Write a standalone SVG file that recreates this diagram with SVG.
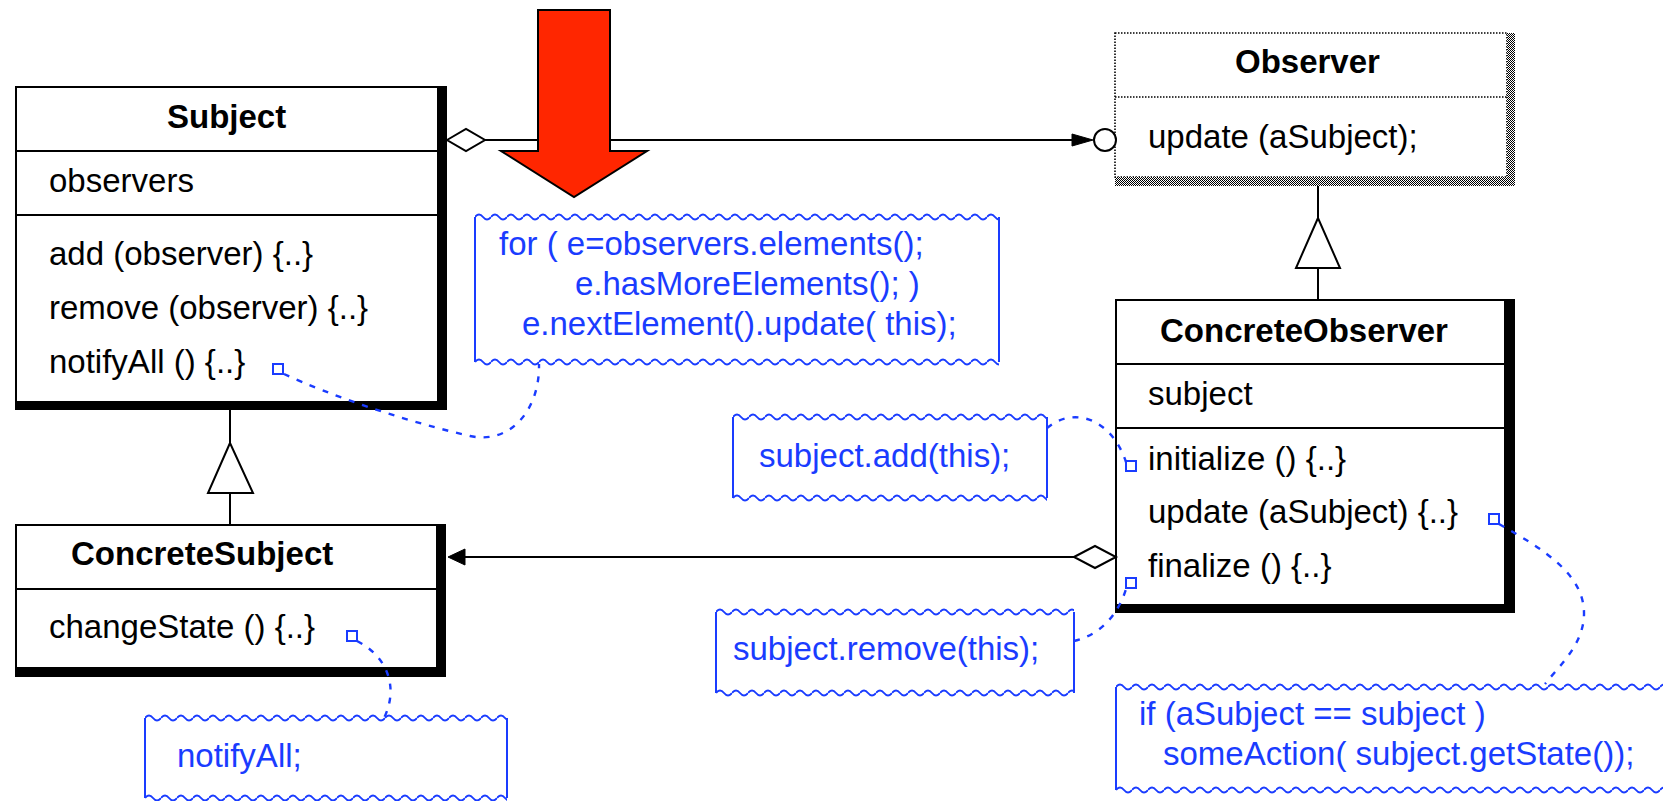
<svg xmlns="http://www.w3.org/2000/svg" width="1663" height="801" viewBox="0 0 1663 801">
<style>
.box{fill:#fff;stroke:#000;stroke-width:2}
.sh{fill:#000}
.div{stroke:#000;stroke-width:2}
.t{font-family:"Liberation Sans",Arial,sans-serif;font-size:33px;fill:#000}
.b{font-weight:bold}
.n{font-family:"Liberation Sans",Arial,sans-serif;font-size:33px;fill:#1a3cff}
.note{fill:#fff;stroke:none}
.nedge{stroke:#1a3cff;stroke-width:2}
.sq{fill:#fff;stroke:#1a3cff;stroke-width:2}
.dash{fill:none;stroke:#1a3cff;stroke-width:2.4;stroke-dasharray:6 8}
.line{fill:none;stroke:#000;stroke-width:2}
.hollow{fill:#fff;stroke:#000;stroke-width:2}
.solid{fill:#000;stroke:#000;stroke-width:1}
</style>
<defs>
<pattern id="wave" width="16" height="10" patternUnits="userSpaceOnUse">
<path d="M0,5 Q4,0 8,5 T16,5" fill="none" stroke="#1a3cff" stroke-width="2"/>
</pattern>
<pattern id="dither" width="2" height="2" patternUnits="userSpaceOnUse">
<rect x="0" y="0" width="2" height="2" fill="#fff"/>
<rect x="0" y="0" width="1" height="1" fill="#000"/>
<rect x="1" y="1" width="1" height="1" fill="#000"/>
</pattern>
</defs>

<g id="subject">
<rect class="box" x="16" y="87" width="422" height="315"/>
<rect class="sh" x="438" y="86" width="9" height="324"/>
<rect class="sh" x="15" y="402" width="432" height="8"/>
<line class="div" x1="16" y1="151" x2="438" y2="151"/>
<line class="div" x1="16" y1="215" x2="438" y2="215"/>
<text class="t b" x="167" y="128">Subject</text>
<text class="t" x="49" y="192">observers</text>
<text class="t" x="49" y="265">add (observer) {..}</text>
<text class="t" x="49" y="319">remove (observer) {..}</text>
<text class="t" x="49" y="373">notifyAll () {..}</text>
<rect class="sq" x="273" y="364" width="10" height="10"/>
</g>

<g id="concreteSubject">
<rect class="box" x="16" y="525" width="421" height="143"/>
<rect class="sh" x="437" y="524" width="9" height="153"/>
<rect class="sh" x="15" y="668" width="431" height="9"/>
<line class="div" x1="16" y1="589" x2="437" y2="589"/>
<text class="t b" x="71" y="565">ConcreteSubject</text>
<text class="t" x="49" y="638">changeState () {..}</text>
<rect class="sq" x="347" y="631" width="10" height="10"/>
</g>

<g id="observer">
<rect x="1115" y="33" width="392" height="144" fill="#fff" stroke="#000" stroke-width="1.6" stroke-dasharray="1.5 1.5"/>
<rect x="1507" y="33" width="8" height="153" fill="url(#dither)"/>
<rect x="1115" y="177" width="400" height="9" fill="url(#dither)"/>
<line x1="1115" y1="97" x2="1507" y2="97" stroke="#000" stroke-width="1.6" stroke-dasharray="1.5 1.5"/>
<text class="t b" x="1235" y="73">Observer</text>
<text class="t" x="1148" y="148">update (aSubject);</text>
</g>

<g id="concreteObserver">
<rect class="box" x="1116" y="300" width="389" height="305"/>
<rect class="sh" x="1505" y="299" width="10" height="314"/>
<rect class="sh" x="1115" y="605" width="400" height="8"/>
<line class="div" x1="1116" y1="364" x2="1505" y2="364"/>
<line class="div" x1="1116" y1="428" x2="1505" y2="428"/>
<text class="t b" x="1160" y="342">ConcreteObserver</text>
<text class="t" x="1148" y="405">subject</text>
<text class="t" x="1148" y="470">initialize () {..}</text>
<text class="t" x="1148" y="523">update (aSubject) {..}</text>
<text class="t" x="1148" y="577">finalize () {..}</text>
<rect class="sq" x="1126" y="461" width="10" height="10"/>
<rect class="sq" x="1126" y="578" width="10" height="10"/>
<rect class="sq" x="1489" y="514" width="10" height="10"/>
</g>

<g id="noteNotifyAll">
<rect class="note" x="475" y="217" width="524" height="145"/>
<rect x="0" y="0" width="524" height="10" fill="url(#wave)" transform="translate(475,212)"/>
<rect x="0" y="0" width="524" height="10" fill="url(#wave)" transform="translate(475,357)"/>
<line class="nedge" x1="475" y1="217" x2="475" y2="362"/>
<line class="nedge" x1="999" y1="217" x2="999" y2="362"/>
<text class="n" x="499" y="255">for ( e=observers.elements();</text>
<text class="n" x="575" y="295">e.hasMoreElements(); )</text>
<text class="n" x="522" y="335">e.nextElement().update( this);</text>
</g>

<g id="noteAdd">
<rect class="note" x="733" y="417" width="314" height="81"/>
<rect x="0" y="0" width="314" height="10" fill="url(#wave)" transform="translate(733,412)"/>
<rect x="0" y="0" width="314" height="10" fill="url(#wave)" transform="translate(733,493)"/>
<line class="nedge" x1="733" y1="417" x2="733" y2="498"/>
<line class="nedge" x1="1047" y1="417" x2="1047" y2="498"/>
<text class="n" x="759" y="467">subject.add(this);</text>
</g>

<g id="noteRemove">
<rect class="note" x="716" y="612" width="358" height="81"/>
<rect x="0" y="0" width="358" height="10" fill="url(#wave)" transform="translate(716,607)"/>
<rect x="0" y="0" width="358" height="10" fill="url(#wave)" transform="translate(716,688)"/>
<line class="nedge" x1="716" y1="612" x2="716" y2="693"/>
<line class="nedge" x1="1074" y1="612" x2="1074" y2="693"/>
<text class="n" x="733" y="660">subject.remove(this);</text>
</g>

<g id="noteUpdate">
<rect class="note" x="1116" y="687" width="560" height="103"/>
<rect x="0" y="0" width="560" height="10" fill="url(#wave)" transform="translate(1116,682)"/>
<rect x="0" y="0" width="560" height="10" fill="url(#wave)" transform="translate(1116,785)"/>
<line class="nedge" x1="1116" y1="687" x2="1116" y2="790"/>
<text class="n" x="1139" y="725">if (aSubject == subject )</text>
<text class="n" x="1163" y="765">someAction( subject.getState());</text>
</g>

<g id="noteChangeState">
<rect class="note" x="145" y="718" width="362" height="80"/>
<rect x="0" y="0" width="362" height="10" fill="url(#wave)" transform="translate(145,713)"/>
<rect x="0" y="0" width="362" height="10" fill="url(#wave)" transform="translate(145,793)"/>
<line class="nedge" x1="145" y1="718" x2="145" y2="798"/>
<line class="nedge" x1="507" y1="718" x2="507" y2="798"/>
<text class="n" x="177" y="767">notifyAll;</text>
</g>

<g id="connectors">
<line class="line" x1="485" y1="140" x2="1074" y2="140"/>
<polygon class="hollow" points="447,140 466,129 485,140 466,151"/>
<polygon class="solid" points="1072,134 1093,140 1072,146"/>
<circle class="hollow" cx="1105" cy="140" r="11"/>

<line class="line" x1="462" y1="557" x2="1074" y2="557"/>
<polygon class="hollow" points="1074,557 1095,546 1116,557 1095,568"/>
<polygon class="solid" points="448,557 465,549 465,565"/>

<path class="line" d="M230,410 V443 M230,493 V525"/>
<polygon class="hollow" points="230,443 208,493 253,493"/>
<path class="line" d="M1318,186 V218 M1318,268 V300"/>
<polygon class="hollow" points="1318,218 1296,268 1340,268"/>

<path class="dash" d="M284,374 C330,395 400,420 470,436 C510,445 540,410 539,364"/>
<path class="dash" d="M1047,428 C1075,405 1112,420 1126,462"/>
<path class="dash" d="M1074,641 C1100,635 1118,615 1126,589"/>
<path class="dash" d="M1499,524 C1545,550 1585,575 1584,615 C1583,645 1560,665 1545,684"/>
<path class="dash" d="M357,641 C385,655 400,685 384,718"/>
</g>

<g id="redArrow">
<polygon points="538,10 610,10 610,151 647,151 574,197 501,151 538,151" fill="#ff2600" stroke="#000" stroke-width="2"/>
</g>
</svg>
